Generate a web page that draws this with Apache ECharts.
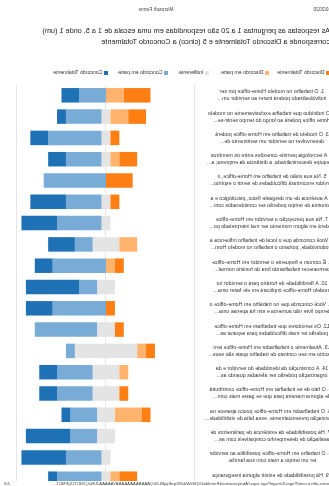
<!DOCTYPE html>
<html>
<head>
<meta charset="utf-8">
<script src="https://cdn.jsdelivr.net/npm/echarts@6/dist/echarts.min.js"></script>
<style>
html,body{margin:0;padding:0;background:#fff;overflow:hidden;}
#chart{width:329px;height:486px;transform:scaleX(-1);}
</style>
</head>
<body>
<div id="chart"></div>
<script>
const categories = [
  "1. O trabalho no modelo Home-office por ser\nindividualizado poderá trazer ao servidor um...",
  "2. O indivíduo que trabalha exclusivamente no modelo\nHome office poderá ao longo do tempo sentir-se...",
  "3. O modelo de trabalho em Home-office poderá\ndesenvolver no servidor um sentimento de...",
  "4. A tecnologia permite conexões entre os membros\nda equipe descentralizada, a distância da empresa; a...",
  "5. Na sua visão de trabalho em Home-office, o\nservidor encontrará dificuldades de sentir o espírito...",
  "6. A ausência de um desgaste físico, psicológico e a\neconomia de tempo poderão ser considerados com...",
  "7. Na sua percepção o servidor em Home-office\npoderá em algum momento ser mal interpretado po...",
  "8. Você concorda que o local de trabalho influencia a\nprodutividade, portanto o trabalho no modelo Hom...",
  "9. É comum e frequente o servidor em Home-office\npermanecer trabalhando fora do horário normal...",
  "10. A flexibilidade de horário para o servidor no\nmodelo Home-office implicará em ele fazer uma...",
  "11. Você concorda que no trabalho em Home-office o\ntempo livre não aumenta e sim há apenas uma...",
  "12. Os servidores que trabalham em Home-office\npoderão ter mais dificuldades para separar as...",
  "13. Atualmente o trabalhador em Home-office tem\ndescrito em seu contrato de trabalho quais são seus...",
  "14. A construção da identidade do servidor e da\norganização poderão ser afetadas quando as...",
  "15. O fato de se trabalhar em Home-office contribuirá\nde alguma maneira para que se gaste mais com...",
  "16. O trabalhador em Home-office pouco aparece na\norganização presencialmente, essa falta de visibilidade...",
  "17. Há possibilidade da existência de parâmetros de\navaliação de desempenho compatíveis com as...",
  "18. O trabalho em Home-office possibilita ao servidor\nter um tempo a mais com sua família.",
  "19. Há possibilidade de existir alguma insegurança\n"
];
const legendNames = ["Discordo Totalmente", "Discordo em parte.", "Indiferente.", "Concordo em parte.", "Concordo Totalmente"];
const discordoTotal = [3,2,1,2,3,1,0,0,1,0,1,1,1,0,1,1,0,0,2];
const discordoParte = [2,2,0,1,0,0,0,2,1,0,0,0,1,1,0,3,0,0,1];
const indiferente   = [0,1,1,1,0,1,1,3,0,2,0,2,7,3,3,2,2,1,1];
const concordoParte = [3,4,6,4,7,4,5,2,6,2,6,7,1,4,4,3,3,4,5];
const concordoTotal = [2,1,2,2,0,4,4,3,2,6,3,0,0,2,2,1,5,5,1];
const xTicks = [-10, 0, 10];

const colors = ["#fd7f13", "#ffb36c", "#e4e4e4", "#78acd6", "#1f71b5"];
const FONT = "Liberation Sans, Arial, sans-serif";

const chart = echarts.init(document.getElementById('chart'), null, {renderer: 'canvas'});

function bar(name, data, color) {
  return {
    type: 'bar', name: name, stack: 'total', data: data, barWidth: 14.5,
    itemStyle: {color: color}, emphasis: {disabled: true}, silent: true
  };
}

const legendX = [-1, 60, 120, 161, 221];
const graphics = [];
legendNames.forEach((n, i) => {
  graphics.push({type: 'rect', left: legendX[i], top: 71, shape: {width: 4, height: 4}, style: {fill: colors[i]}});
  graphics.push({type: 'text', x: legendX[i] + 5.5, y: 73, style: {text: n, fill: '#333', font: '5.2px ' + FONT, verticalAlign: 'middle'}});
});
graphics.push({type: 'text', x: -9, y: 10, style: {text: '21/10/2020', fill: '#444', font: '4.9px ' + FONT, verticalAlign: 'middle'}});
graphics.push({type: 'text', x: 173, y: 10, style: {text: 'Microsoft Forms', fill: '#444', font: '4.9px ' + FONT, align: 'center', verticalAlign: 'middle'}});
graphics.push({type: 'text', x: -1, y: 31, style: {text: 'As respostas as perguntas 1 a 20 são respondidas em uma escala de 1 a 5, onde 1 (um)', fill: '#222', font: '7.3px ' + FONT, verticalAlign: 'middle'}});
graphics.push({type: 'text', x: -1, y: 41.5, style: {text: 'corresponde a Discordo Totalmente e 5 (cinco) a Concordo Totalmente', fill: '#222', font: '7.3px ' + FONT, verticalAlign: 'middle'}});
graphics.push({type: 'rect', left: 0, top: 481, z: 100, shape: {width: 329, height: 5}, style: {fill: '#fff'}});
graphics.push({type: 'text', x: -14, y: 484, z: 101, style: {text: 'https://forms.office.com/Pages/DesignPage.aspx#Analysis=true&FormId=DQSIkWdsW0yxEjajBLZtrQAAAAAAAAAAAAYAAAAAJUNzQ1NDTUQFNDT...', fill: '#444', font: '4.3px ' + FONT, verticalAlign: 'middle'}});
graphics.push({type: 'text', x: 319, y: 484, z: 101, style: {text: '2/4', fill: '#444', font: '4.3px ' + FONT, verticalAlign: 'middle'}});

chart.setOption({
  animation: false,
  textStyle: {fontFamily: FONT},
  grid: {left: 134, right: 17, top: 84.65, height: 404.7, outerBoundsMode: 'none', containLabel: false},
  xAxis: {
    type: 'value', min: xTicks[0], max: xTicks[2], interval: 10,
    axisLabel: {show: false}, axisLine: {show: false}, axisTick: {show: false},
    splitLine: {show: true, lineStyle: {color: '#e6e6e6', width: 1}}
  },
  yAxis: {
    type: 'category', data: categories, inverse: true,
    axisLine: {show: false}, axisTick: {show: false}, splitLine: {show: false},
    axisLabel: {interval: 0, align: 'center', margin: 77, fontSize: 5.3, lineHeight: 7, color: '#333', fontFamily: FONT}
  },
  legend: {show: false},
  graphic: graphics,
  series: [
    bar('Indiferente.', indiferente.map(v => -v / 2), colors[2]),
    bar('Indiferente.', indiferente.map(v => v / 2), colors[2]),
    bar('Discordo em parte.', discordoParte.map(v => -v), colors[1]),
    bar('Concordo em parte.', concordoParte, colors[3]),
    bar('Discordo Totalmente', discordoTotal.map(v => -v), colors[0]),
    bar('Concordo Totalmente', concordoTotal, colors[4])
  ]
});
</script>
</body>
</html>
